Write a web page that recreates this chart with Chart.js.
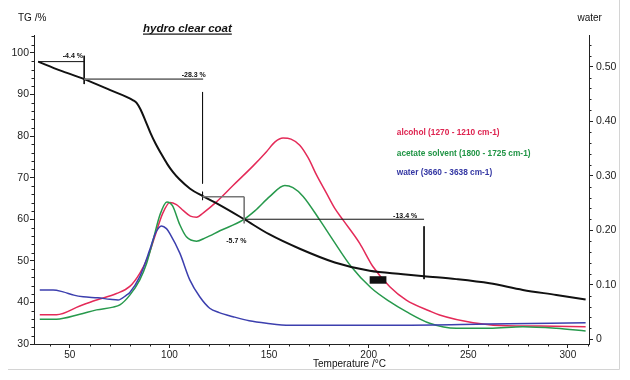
<!DOCTYPE html>
<html><head><meta charset="utf-8">
<script src="https://cdn.jsdelivr.net/npm/chart.js@4.4.1/dist/chart.umd.min.js"></script>
<style>html,body{margin:0;padding:0;background:#fff;}canvas{display:block;}</style>
</head><body>
<canvas id="c" width="630" height="380"></canvas>
<script>
const FONT = "'Liberation Sans', Arial, sans-serif";

// ---- tick labels ----
const tempTicks = [50, 100, 150, 200, 250, 300];
const tgTicks = [30, 40, 50, 60, 70, 80, 90, 100];
const irTicks = [0, 0.1, 0.2, 0.3, 0.4, 0.5];

// ---- TG curve (left axis, %) ----
const tgTemp  = [34.1, 45, 57.2, 70, 81.8, 83.5, 85.5, 88, 90.5, 93, 96, 99, 102, 105, 110.2, 116.5, 125.3, 137.5, 150, 165.4, 183, 200.5, 217.2, 227.8, 244, 260.7, 277.4, 294.2, 308.9];
const tgValue = [97.9, 95.8, 93.7, 91.1, 88.6, 88.0, 86.4, 83.6, 80.7, 78.2, 75.6, 73.2, 71.2, 69.6, 67.4, 65.6, 63.4, 60.0, 56.4, 52.9, 49.6, 47.6, 46.8, 46.3, 45.6, 44.6, 43.0, 41.8, 40.7];

// ---- IR traces (right axis) ----
const alcoholTemp  = [34.9, 43.3, 55, 63.4, 73.4, 80.1, 85.1, 89.3, 92.6, 96.5, 100.2, 103.5, 107, 110.5, 113.6, 117, 123.6, 131.9, 142, 148.7, 153, 157, 161, 165.4, 169.6, 174, 178.8, 183, 187.1, 195.5, 202.2, 210.6, 218.9, 230.6, 235.6, 252.4, 269.1, 285.8, 308.9];
const alcoholValue = [0.045, 0.045, 0.061, 0.072, 0.084, 0.097, 0.121, 0.152, 0.188, 0.230, 0.251, 0.247, 0.236, 0.226, 0.224, 0.232, 0.252, 0.282, 0.318, 0.344, 0.362, 0.369, 0.367, 0.356, 0.333, 0.300, 0.268, 0.240, 0.219, 0.176, 0.133, 0.0965, 0.072, 0.052, 0.0446, 0.0305, 0.025, 0.0244, 0.0231];

const acetateTemp  = [34.9, 43.3, 55, 63.4, 71.7, 75.1, 80.1, 85.1, 88.5, 91.8, 95.2, 98.7, 101.5, 105.2, 108.5, 113.6, 118, 125.3, 137, 143, 150.4, 157.9, 162, 167.1, 175.4, 182.1, 191.3, 201, 210.6, 218.9, 230.6, 244, 260.7, 277.4, 294.2, 308.9];
const acetateValue = [0.037, 0.037, 0.046, 0.054, 0.059, 0.063, 0.081, 0.109, 0.139, 0.182, 0.228, 0.252, 0.245, 0.210, 0.188, 0.180, 0.186, 0.199, 0.219, 0.236, 0.262, 0.282, 0.278, 0.262, 0.219, 0.182, 0.133, 0.095, 0.069, 0.0506, 0.0294, 0.0202, 0.0202, 0.0231, 0.0202, 0.0152];

const waterTemp  = [34.9, 41.6, 46.6, 52, 56.7, 64, 70.1, 74.2, 78.4, 80.1, 85.1, 90.1, 93, 96, 98.5, 100.2, 105.2, 110.2, 115.2, 120.2, 125, 131.9, 140, 148.7, 160.4, 173.8, 215.6, 260, 308.9];
const waterValue = [0.0905, 0.0905, 0.087, 0.081, 0.078, 0.076, 0.0734, 0.072, 0.081, 0.086, 0.115, 0.164, 0.195, 0.208, 0.203, 0.194, 0.158, 0.109, 0.078, 0.057, 0.049, 0.0415, 0.034, 0.0294, 0.0257, 0.026, 0.026, 0.028, 0.0305];

// ---- mass-loss step markers (temperature, TG %) ----
const blackSteps = [
  [34.1, 97.9, 57.2, 97.9],
  [57.2, 99.3, 57.2, 92.5],
  [116.6, 90.6, 116.6, 68.6],
  [116.6, 66.6, 116.6, 64.6],
  [137.5, 60.0, 227.8, 60.0],
  [227.8, 58.3, 227.8, 45.6]
];
const greySteps = [
  [57.2, 93.7, 116.9, 93.7],
  [116.6, 65.4, 137.5, 65.4],
  [137.5, 65.4, 137.5, 59.0]
];
const lossLabels = ['-4.4 %', '-28.3 %', '-5.7 %', '-13.4 %'];
const lossLabelTemp = [51.5, 112.2, 133.6, 218.3];
const lossLabelTG = [99.2, 94.7, 54.7, 60.8];
const markerBox = [200.5, 208.9, 44.5, 46.3]; // tmin, tmax, tgmin, tgmax

const seriesNames = ['alcohol (1270 - 1210 cm-1)', 'acetate solvent (1800 - 1725 cm-1)', 'water (3660 - 3638 cm-1)'];
const seriesLabelValue = [0.378, 0.341, 0.306];
const seriesLabelTemp = 214.1;

const RED = '#e42a58', GREEN = '#27994c', BLUE = '#3c3fae';
const RED_T = '#de2450', GREEN_T = '#1f9444', BLUE_T = '#3336a3';

const zip = (xs, ys) => xs.map((x, i) => ({x, y: ys[i]}));

const datasets = [
  {data: zip(tgTemp, tgValue), yAxisID: 'y', borderColor: '#111', borderWidth: 2, cubicInterpolationMode: 'monotone'},
  {data: zip(waterTemp, waterValue), yAxisID: 'y2', borderColor: BLUE, borderWidth: 1.5, cubicInterpolationMode: 'monotone'},
  {data: zip(acetateTemp, acetateValue), yAxisID: 'y2', borderColor: GREEN, borderWidth: 1.5, cubicInterpolationMode: 'monotone'},
  {data: zip(alcoholTemp, alcoholValue), yAxisID: 'y2', borderColor: RED, borderWidth: 1.5, cubicInterpolationMode: 'monotone'}
];
blackSteps.forEach(s => datasets.unshift({data: [{x: s[0], y: s[1]}, {x: s[2], y: s[3]}], yAxisID: 'y', borderColor: '#111', borderWidth: 1, tension: 0}));
greySteps.forEach(s => datasets.unshift({data: [{x: s[0], y: s[1]}, {x: s[2], y: s[3]}], yAxisID: 'y', borderColor: '#777', borderWidth: 1.6, tension: 0}));

function fixTicks(values) {
  return function (scale) { scale.ticks = values.map(v => ({value: v})); };
}

const overlay = {
  id: 'overlay',
  afterDatasetsDraw(chart) {
    const c = chart.ctx, x = chart.scales.x, y = chart.scales.y, y2 = chart.scales.y2;
    c.save();
    const bx1 = x.getPixelForValue(markerBox[0]), bx2 = x.getPixelForValue(markerBox[1]);
    const by1 = y.getPixelForValue(markerBox[3]), by2 = y.getPixelForValue(markerBox[2]);
    c.fillStyle = '#111';
    c.fillRect(bx1, by1, bx2 - bx1, by2 - by1);
    c.font = 'bold 7px ' + FONT;
    c.textAlign = 'center'; c.textBaseline = 'middle';
    lossLabels.forEach((t, i) => {
      c.fillText(t, x.getPixelForValue(lossLabelTemp[i]), y.getPixelForValue(lossLabelTG[i]));
    });
    c.font = 'bold 8.3px ' + FONT;
    c.textAlign = 'left';
    const cols = [RED_T, GREEN_T, BLUE_T];
    seriesNames.forEach((t, i) => {
      c.fillStyle = cols[i];
      c.fillText(t, x.getPixelForValue(seriesLabelTemp), y2.getPixelForValue(seriesLabelValue[i]));
    });
    c.restore();
  },
  afterDraw(chart) {
    const c = chart.ctx, x = chart.scales.x, y = chart.scales.y, y2 = chart.scales.y2;
    const a = chart.chartArea;
    c.save();
    c.strokeStyle = '#222'; c.lineWidth = 1;
    c.beginPath();
    for (let v = 32; v <= 104; v += 2) {
      if (v % 10 === 0) continue;
      const p = Math.round(y.getPixelForValue(v)) + 0.5;
      c.moveTo(a.left - 2.5, p); c.lineTo(a.left, p);
    }
    for (let k = 1; k <= 27; k++) {
      if (k % 5 === 0) continue;
      const p = Math.round(y2.getPixelForValue(k * 0.02)) + 0.5;
      c.moveTo(a.right, p); c.lineTo(a.right + 2.5, p);
    }
    for (let v = 40; v <= 310; v += 10) {
      if (v % 50 === 0) continue;
      const p = Math.round(x.getPixelForValue(v)) + 0.5;
      c.moveTo(p, a.bottom); c.lineTo(p, a.bottom + 2.5);
    }
    c.stroke();
    c.strokeStyle = '#d4d4d4';
    c.beginPath();
    c.moveTo(8, 369.5); c.lineTo(619.5, 369.5);
    c.moveTo(619.5, 0); c.lineTo(619.5, 369.5);
    c.stroke();
    c.fillStyle = '#111';
    c.textBaseline = 'middle';
    c.font = '10px ' + FONT;
    c.textAlign = 'left';
    c.fillText('TG /%', 18, 18.5);
    c.fillText('water', 577.5, 18.5);
    c.fillText('Temperature /°C', 313, 364.5);
    c.font = 'italic bold 11.5px ' + FONT;
    c.textBaseline = 'alphabetic';
    c.fillText('hydro clear coat', 143, 32);
    const w = c.measureText('hydro clear coat').width;
    c.fillRect(143, 33.5, w, 1.2);
    c.restore();
  }
};

const tickFont = {family: FONT, size: 10.5};
new Chart(document.getElementById('c'), {
  type: 'line',
  data: {datasets},
  plugins: [overlay],
  options: {
    responsive: false,
    animation: false,
    events: [],
    layout: {padding: {top: 35, left: 0, right: 0, bottom: 0}},
    elements: {point: {radius: 0}},
    plugins: {legend: {display: false}, tooltip: {enabled: false}, title: {display: false}},
    scales: {
      x: {
        type: 'linear', min: 32, max: 310.6,
        afterBuildTicks: fixTicks(tempTicks),
        afterFit(s) { s.height = 36; },
        border: {color: '#222', width: 1},
        grid: {drawOnChartArea: false, drawTicks: true, tickLength: 4, color: '#222'},
        ticks: {font: {family: FONT, size: 10}, color: '#222', padding: 1, maxRotation: 0, autoSkip: false}
      },
      y: {
        type: 'linear', position: 'left', min: 30, max: 104.3,
        afterBuildTicks: fixTicks(tgTicks),
        afterFit(s) { s.width = 34; },
        border: {color: '#222', width: 1},
        grid: {drawOnChartArea: false, drawTicks: true, tickLength: 4, color: '#222'},
        ticks: {font: tickFont, color: '#222', padding: 1, autoSkip: false}
      },
      y2: {
        type: 'linear', position: 'right', min: -0.0086, max: 0.558,
        afterBuildTicks: fixTicks(irTicks),
        afterFit(s) { s.width = 41; },
        border: {color: '#222', width: 1},
        grid: {drawOnChartArea: false, drawTicks: true, tickLength: 4, color: '#222'},
        ticks: {font: tickFont, color: '#222', padding: 3, autoSkip: false,
          callback: v => v === 0 ? '0' : v.toFixed(2)}
      }
    }
  }
});
</script>
</body></html>
